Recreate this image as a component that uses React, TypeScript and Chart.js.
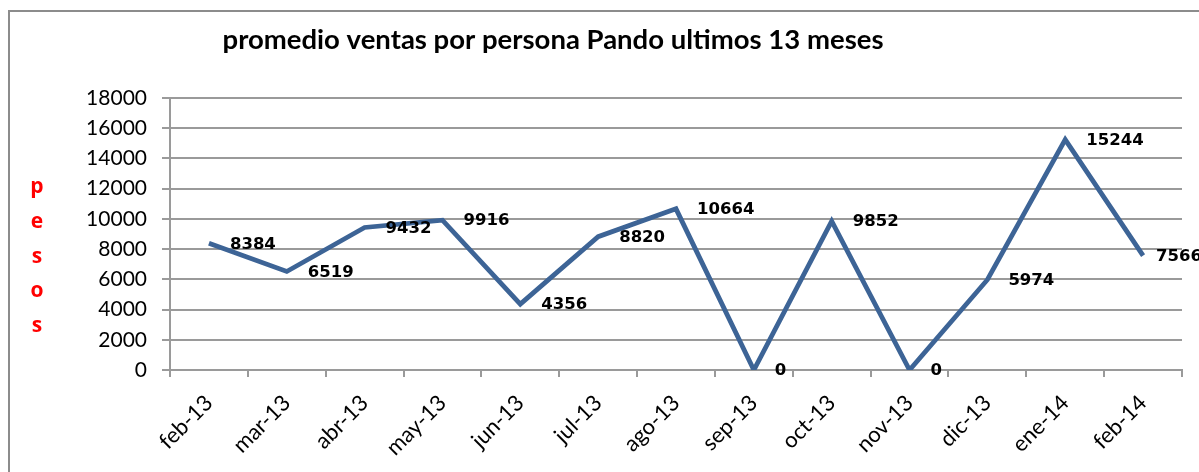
import React, { useEffect, useRef } from 'react';
import { Chart, registerables } from 'chart.js';

Chart.register(...registerables);

const categories = ['feb-13', 'mar-13', 'abr-13', 'may-13', 'jun-13', 'jul-13', 'ago-13', 'sep-13', 'oct-13', 'nov-13', 'dic-13', 'ene-14', 'feb-14'];
const values = [8384, 6519, 9432, 9916, 4356, 8820, 10664, 0, 9852, 0, 5974, 15244, 7566];
const yTicks = [0, 2000, 4000, 6000, 8000, 10000, 12000, 14000, 16000, 18000];
const titleText = 'promedio ventas por persona Pando ultimos 13 meses';
const yTitleLetters = ['p', 'e', 's', 'o', 's'];

const GRID = '#9a9a9a';
const LINE = '#3d6496';

const overlayPlugin = {
  id: 'overlay',
  afterDatasetsDraw(chart: any) {
    const { ctx, chartArea } = chart;
    const meta = chart.getDatasetMeta(0);
    ctx.save();
    ctx.font = 'bold 16.5px "DejaVu Sans"';
    ctx.fillStyle = '#000';
    ctx.textBaseline = 'middle';
    ctx.textAlign = 'left';
    meta.data.forEach((pt: any, i: number) => {
      const txt = String(values[i]);
      const w = ctx.measureText(txt).width;
      const x = Math.min(pt.x + 21, chartArea.right + 20 - w);
      ctx.fillText(txt, x, pt.y + 1);
    });
    ctx.font = 'bold 27.5px Lato';
    ctx.textAlign = 'center';
    ctx.textBaseline = 'alphabetic';
    ctx.fillText(titleText, 543, 37);
    ctx.font = 'bold 21px "Open Sans"';
    ctx.fillStyle = '#ff0000';
    yTitleLetters.forEach((ch, i) => {
      ctx.fillText(ch, 27, 181 + i * 34.75);
    });
    ctx.restore();
  },
};

export default function App() {
  const ref = useRef<HTMLCanvasElement | null>(null);
  useEffect(() => {
    if (!ref.current) return;
    const chart = new Chart(ref.current, {
      type: 'line',
      data: {
        labels: categories,
        datasets: [
          {
            data: values,
            borderColor: LINE,
            backgroundColor: LINE,
            borderWidth: 4.8,
            pointRadius: 0,
            tension: 0,
            borderJoinStyle: 'miter',
            borderCapStyle: 'butt',
            fill: false,
          },
        ],
      },
      options: {
        animation: false,
        responsive: false,
        maintainAspectRatio: false,
        layout: { padding: { left: 0, right: 68, top: 86, bottom: 12 } },
        plugins: { legend: { display: false }, title: { display: false }, tooltip: { enabled: false } },
        scales: {
          x: {
            type: 'category',
            offset: true,
            afterFit: (s: any) => { s.height = 100; },
            grid: { offset: true, drawOnChartArea: false, drawTicks: true, tickLength: 7, color: GRID, lineWidth: 2 },
            border: { color: GRID, width: 2 },
            ticks: {
              color: '#000',
              font: { family: 'Lato', size: 22 },
              maxRotation: 45,
              minRotation: 45,
              autoSkip: false,
              padding: 13,
            },
          },
          y: {
            min: 0,
            max: 18000,
            afterFit: (s: any) => { s.width = 160; },
            afterBuildTicks: (s: any) => { s.ticks = yTicks.map((v) => ({ value: v })); },
            grid: { color: GRID, lineWidth: 2, tickLength: 8, drawTicks: true },
            border: { color: GRID, width: 2 },
            ticks: {
              color: '#000',
              font: { family: 'Lato', size: 21 },
              padding: 15,
              callback: (v: any) => String(v),
            },
          },
        },
      },
      plugins: [overlayPlugin],
    });
    return () => chart.destroy();
  }, []);

  return (
    <div style={{ position: 'fixed', left: 8, top: 10, right: 0, bottom: 0, overflow: 'hidden', background: '#fff' }}>
      <div style={{ width: 1240, height: 480, borderLeft: '2px solid #8c8c8c', borderTop: '2px solid #8c8c8c' }}>
        <canvas ref={ref} width={1240} height={470} style={{ display: 'block', width: 1240, height: 470 }} />
      </div>
    </div>
  );
}
